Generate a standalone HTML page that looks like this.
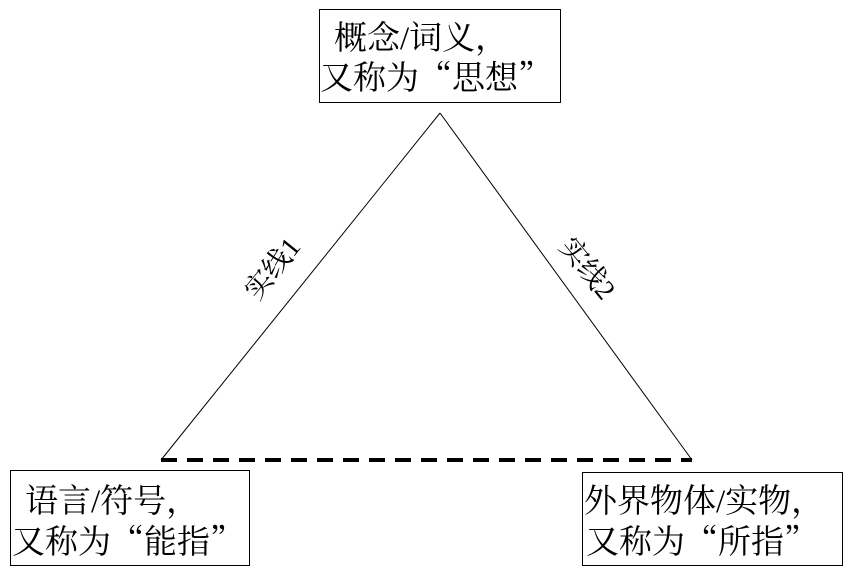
<!DOCTYPE html>
<html><head><meta charset="utf-8"><style>
html,body{margin:0;padding:0;background:#fff;}
svg text{font-family:"Noto Serif CJK SC","Liberation Serif",serif;fill:#000;}
</style></head><body>
<svg width="852" height="574" viewBox="0 0 852 574" xmlns="http://www.w3.org/2000/svg">
<rect x="319.5" y="9.5" width="241" height="93" fill="#fff" stroke="#000" stroke-width="1"/>
<rect x="10.5" y="470.5" width="239" height="95" fill="#fff" stroke="#000" stroke-width="1"/>
<rect x="582.5" y="472.5" width="260" height="93" fill="#fff" stroke="#000" stroke-width="1"/>
<line x1="440" y1="113" x2="161" y2="460" stroke="#000" stroke-width="1"/>
<line x1="440" y1="113" x2="692" y2="460" stroke="#000" stroke-width="1"/>
<line x1="161" y1="460" x2="692" y2="460" stroke="#000" stroke-width="4" stroke-dasharray="16,10"/>
<text x="334" y="49" font-size="33">概念<tspan font-family="Liberation Serif">/</tspan>词义，</text>
<text x="320" y="89" font-size="33">又称为“思想”</text>
<text x="25" y="512" font-size="33">语言<tspan font-family="Liberation Serif">/</tspan>符号，</text>
<text x="12" y="553" font-size="33">又称为“能指”</text>
<text x="584" y="512" font-size="33">外界物体<tspan font-family="Liberation Serif">/</tspan>实物，</text>
<text x="586" y="553" font-size="33">又称为“所指”</text>
<text x="272" y="278" font-size="28" text-anchor="middle" transform="rotate(-51 272 268)">实线<tspan font-family="Liberation Serif">1</tspan></text>
<text x="588" y="278" font-size="28" text-anchor="middle" transform="rotate(51 588 268)">实线<tspan font-family="Liberation Serif">2</tspan></text>
</svg>
</body></html>
